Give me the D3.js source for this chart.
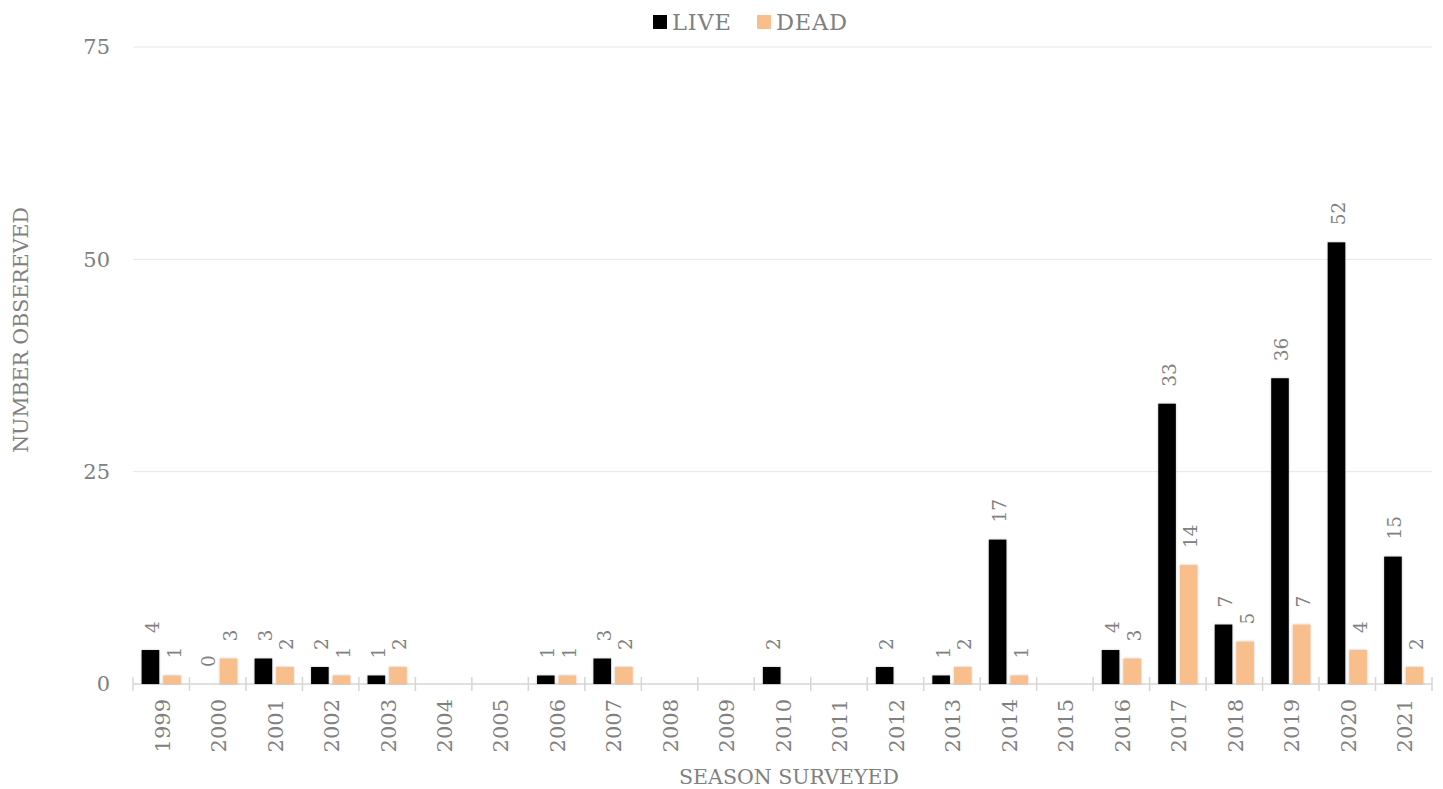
<!DOCTYPE html>
<html>
<head>
<meta charset="utf-8">
<script src="https://cdn.jsdelivr.net/npm/d3@7"></script>
<style>
  body { margin: 0; background: #fff; }
  svg text { font-family: "DejaVu Serif", "Liberation Serif", serif; fill: #808080; }
</style>
</head>
<body>
<div id="chart"></div>
<script>
const years = ["1999","2000","2001","2002","2003","2004","2005","2006","2007","2008","2009","2010",
  "2011","2012","2013","2014","2015","2016","2017","2018","2019","2020","2021"];
// null = no record shown for that season
const live = [4, 0, 3, 2, 1, null, null, 1, 3, null, null, 2, null, 2, 1, 17, null, 4, 33, 7, 36, 52, 15];
const dead = [1, 3, 2, 1, 2, null, null, 1, 2, null, null, null, null, null, 2, 1, null, 3, 14, 5, 7, 4, 2];
const seriesNames = ["LIVE", "DEAD"];
const yTicks = [0, 25, 50, 75];

const width = 1443, height = 789;
const margin = {top: 47, right: 11, bottom: 105, left: 133};
const colors = {LIVE: "#000000", DEAD: "#F8BF8D"};

const svg = d3.select("#chart").append("svg")
    .attr("width", width)
    .attr("height", height);

const defs = svg.append("defs");
const filter = defs.append("filter").attr("id", "shadow")
    .attr("x", "-20%").attr("y", "-20%").attr("width", "140%").attr("height", "140%");
filter.append("feDropShadow")
    .attr("dx", 0).attr("dy", 0).attr("stdDeviation", 1.2)
    .attr("flood-color", "#000").attr("flood-opacity", 0.25);

const x0 = d3.scaleBand()
    .domain(years)
    .range([margin.left, width - margin.right])
    .padding(0);

const x1 = d3.scaleBand()
    .domain(seriesNames)
    .range([0, x0.bandwidth()])
    .paddingInner(0.185)
    .paddingOuter(0.4);

const y = d3.scaleLinear()
    .domain([0, 75])
    .range([height - margin.bottom, margin.top]);

// gridlines
svg.append("g")
    .selectAll("line")
    .data(yTicks.filter(d => d > 0))
    .join("line")
    .attr("x1", margin.left)
    .attr("x2", width - margin.right)
    .attr("y1", d => y(d))
    .attr("y2", d => y(d))
    .attr("stroke", "#e8e8e8")
    .attr("stroke-width", 1);

// y tick labels
svg.append("g")
    .selectAll("text")
    .data(yTicks)
    .join("text")
    .attr("x", margin.left - 23)
    .attr("y", d => y(d))
    .attr("dy", "0.35em")
    .attr("text-anchor", "end")
    .attr("font-size", 21)
    .text(d => d);

// x axis
const xAxis = svg.append("g")
    .attr("transform", `translate(0, ${y(0)})`);
xAxis.append("line")
    .attr("x1", margin.left)
    .attr("x2", width - margin.right)
    .attr("stroke", "#d6d6d6")
    .attr("stroke-width", 1.5);
const boundaries = years.map(d => x0(d)).concat([x0(years[years.length - 1]) + x0.bandwidth()]);
xAxis.selectAll("line.tick")
    .data(boundaries)
    .join("line")
    .attr("class", "tick")
    .attr("x1", d => d).attr("x2", d => d)
    .attr("y1", -7).attr("y2", 7)
    .attr("stroke", "#d6d6d6")
    .attr("stroke-width", 1.5);
xAxis.selectAll("text")
    .data(years)
    .join("text")
    .attr("transform", d => `translate(${x0(d) + x0.bandwidth() / 2 + 1}, 15) rotate(-90)`)
    .attr("text-anchor", "end")
    .attr("dy", "0.35em")
    .attr("font-size", 21)
    .text(d => d);

// bars
const rows = years.map((yr, i) => ({year: yr, LIVE: live[i], DEAD: dead[i]}));
const groups = svg.append("g")
    .selectAll("g")
    .data(rows)
    .join("g")
    .attr("transform", d => `translate(${x0(d.year)}, 0)`);

const cells = groups.selectAll("g")
    .data(d => seriesNames.map(k => ({key: k, value: d[k]})).filter(c => c.value !== null))
    .join("g");

cells.filter(d => d.value > 0)
    .append("rect")
    .attr("x", d => x1(d.key))
    .attr("width", x1.bandwidth())
    .attr("y", d => y(d.value))
    .attr("height", d => y(0) - y(d.value))
    .attr("fill", d => colors[d.key])
    .attr("filter", "url(#shadow)");

cells.append("text")
    .attr("transform", d => `translate(${x1(d.key) + x1.bandwidth() / 2 + 2}, ${y(d.value) - 17}) rotate(-90)`)
    .attr("dy", "0.35em")
    .attr("text-anchor", "start")
    .attr("font-size", 18.5)
    .text(d => d.value);

// legend
const legend = svg.append("g").attr("transform", "translate(653, 22)");
const legendItems = [{key: "LIVE", x: 0}, {key: "DEAD", x: 104}];
const li = legend.selectAll("g")
    .data(legendItems)
    .join("g")
    .attr("transform", d => `translate(${d.x}, 0)`);
li.append("rect")
    .attr("x", 0).attr("y", -7)
    .attr("width", 14).attr("height", 14)
    .attr("fill", d => colors[d.key]);
li.append("text")
    .attr("x", 19)
    .attr("dy", "0.35em")
    .attr("font-size", 22.5)
    .attr("textLength", d => d.key === "LIVE" ? 59 : 71)
    .text(d => d.key);

// axis titles
svg.append("text")
    .attr("transform", `translate(21, 330) rotate(-90)`)
    .attr("text-anchor", "middle")
    .attr("dy", "0.35em")
    .attr("font-size", 20.5)
    .text("NUMBER OBSEREVED");

svg.append("text")
    .attr("x", 789)
    .attr("y", 777)
    .attr("text-anchor", "middle")
    .attr("dy", "0.35em")
    .attr("font-size", 20.5)
    .text("SEASON SURVEYED");
</script>
</body>
</html>
